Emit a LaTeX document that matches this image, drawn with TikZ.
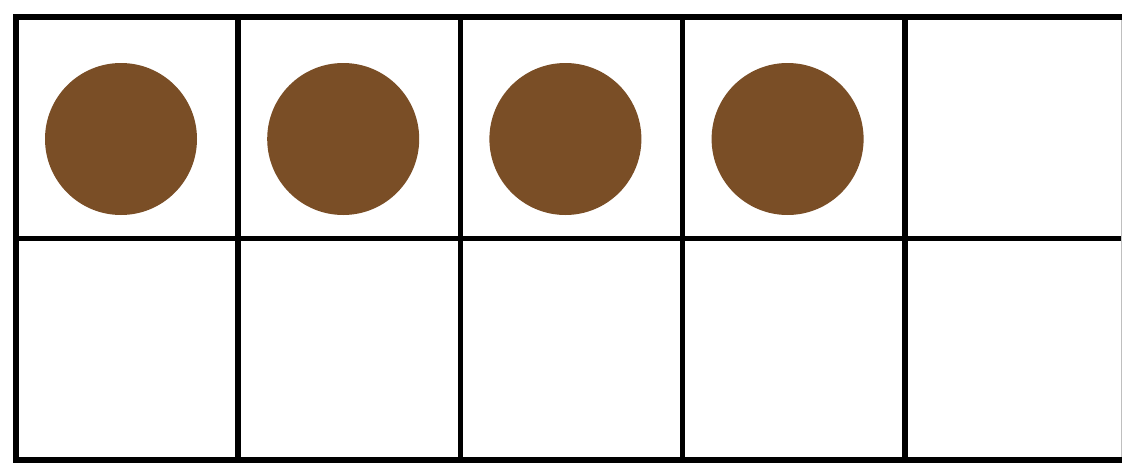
\documentclass[tikz,border=0pt]{standalone}
\definecolor{counter}{RGB}{122,78,38}
\begin{document}
\begin{tikzpicture}[x=1pt,y=-1pt,
  gridline/.style={line width=5.5pt,black},
  dot/.style={fill=counter}]
\useasboundingbox (0,0) rectangle (1122,463);
\clip (0,0) rectangle (1122,463);
\fill[white] (0,0) rectangle (1122,463);
% counters
\foreach \i in {0,1,2,3}{
  \fill[dot] (121+222.2*\i,139) circle[radius=76];
}
% grid
\foreach \x in {16,238.2,460.4,682.6,904.8}{
  \draw[gridline] (\x,14.3) -- (\x,463);
}
\foreach \y in {17,238.5,460}{
  \draw[gridline] (13.3,\y) -- (1122,\y);
}
\draw[gray!50,line width=0.8pt] (1121.3,20) -- (1121.3,457);
\end{tikzpicture}
\end{document}
